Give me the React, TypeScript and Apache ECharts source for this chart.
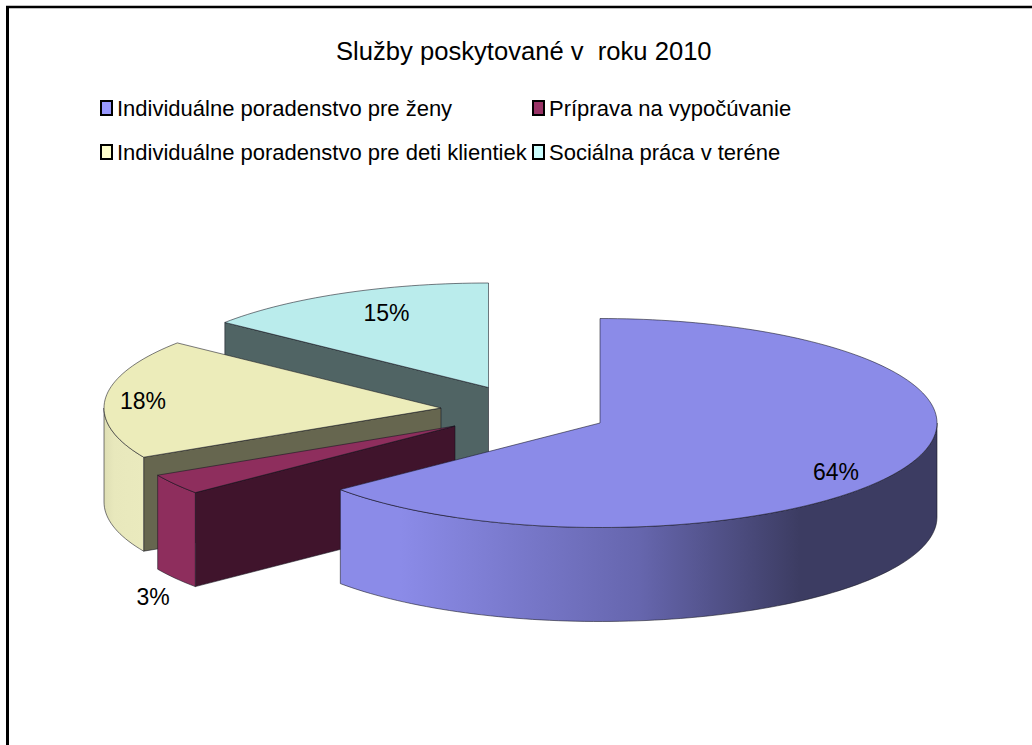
import React, { useEffect, useRef } from "react";
import * as echarts from "echarts";

const categories = [
  "Individuálne poradenstvo pre ženy",
  "Príprava na vypočúvanie",
  "Individuálne poradenstvo pre deti klientiek",
  "Sociálna práca v teréne",
];
const values = [64, 3.2, 18.5, 14.3];
const percentLabels = ["64%", "3%", "18%", "15%"];
const legendColors = ["#9999FF", "#993366", "#FFFFCC", "#CCFFFF"];
const topColors = ["#8B8BE8", "#8E2E5D", "#ECECBA", "#BAECEC"];
const cutColors = ["#3C3C62", "#40142C", "#66664F", "#506464"];
const wallStops: [number, string][][] = [
  [[0, "#8B8BE8"], [0.1, "#8B8BE8"], [0.5, "#6666AE"], [0.77, "#3C3C62"], [1, "#3C3C62"]],
  [[0, "#8E2E5D"], [1, "#8E2E5D"]],
  [[0, "#DEDEB4"], [0.25, "#E8E8BC"], [1, "#EAEABE"]],
  [[0, "#BAECEC"], [1, "#BAECEC"]],
];
const sliceCenters = [[600, 423], [455, 426], [441, 408], [488.5, 387.5]];
const labelOffsets = [[236, 49], [-302, 171], [-298, -7], [-102, -75]];
const drawOrder = [3, 2, 1, 0];
// whether the radial edge where a slice starts shows its cut face to the viewer
const cutFaceAtStart = [false, true, true, true];

const RX = 337;
const RY = 104.5;
const DEPTH = 94;
const FONT = "'Liberation Sans', Arial, sans-serif";
const EDGE = "rgba(20,20,30,0.7)";

const total = values.reduce((a, b) => a + b, 0);
const startOf = (i: number) => (values.slice(0, i).reduce((a, b) => a + b, 0) / total) * 360;

function rim(cx: number, cy: number, deg: number, dy = 0): number[] {
  const r = (deg * Math.PI) / 180;
  return [cx + RX * Math.sin(r), cy - RY * Math.cos(r) + dy];
}
function arc(cx: number, cy: number, a0: number, a1: number, dy = 0): number[][] {
  const n = Math.max(2, Math.ceil(Math.abs(a1 - a0) / 1.5));
  const pts: number[][] = [];
  for (let k = 0; k <= n; k++) pts.push(rim(cx, cy, a0 + ((a1 - a0) * k) / n, dy));
  return pts;
}

function makeRender(i: number) {
  return (_p: any, api: any) => {
    const a0 = startOf(i);
    const a1 = a0 + (api.value(0) / total) * 360;
    const [cx, cy] = sliceCenters[i];
    const children: any[] = [];
    const shade = (pts: number[][], fill: any) =>
      children.push({
        type: "polygon",
        shape: { points: pts },
        style: { fill, stroke: EDGE, lineWidth: 0.8 },
        silent: true,
      });
    if (cutFaceAtStart[i]) {
      const p = rim(cx, cy, a0);
      shade([[cx, cy], p, [p[0], p[1] + DEPTH], [cx, cy + DEPTH]], cutColors[i]);
    }
    // outer wall: only the front half of the rim can be seen
    const w0 = Math.max(a0, 90);
    const w1 = Math.min(a1, 270);
    if (w1 > w0) {
      const grad = new echarts.graphic.LinearGradient(
        0, 0, 1, 0,
        wallStops[i].map(([offset, color]) => ({ offset, color }))
      );
      shade([...arc(cx, cy, w0, w1), ...arc(cx, cy, w1, w0, DEPTH)], grad);
    }
    // top surface
    shade([[cx, cy], ...arc(cx, cy, a0, a1)], topColors[i]);
    children.push({
      type: "text",
      silent: true,
      style: {
        text: percentLabels[i],
        x: cx + labelOffsets[i][0],
        y: cy + labelOffsets[i][1],
        align: "center",
        verticalAlign: "middle",
        fill: "#000",
        fontSize: 23,
        fontFamily: FONT,
      },
    });
    return { type: "group", children };
  };
}

export default function App() {
  const ref = useRef<HTMLDivElement>(null);
  useEffect(() => {
    document.body.style.margin = "0";
    const chart = echarts.init(ref.current!, null, { renderer: "svg" });
    const legendBase = {
      orient: "vertical" as const,
      icon: "rect",
      itemWidth: 11,
      itemHeight: 14,
      itemGap: 22,
      selectedMode: false,
      padding: 0,
      itemStyle: { borderColor: "#000", borderWidth: 2 },
      textStyle: { fontSize: 22, fontFamily: FONT, color: "#000" },
    };
    chart.setOption({
      animation: false,
      backgroundColor: "#fff",
      title: {
        text: "Služby poskytované v  roku 2010",
        left: 336,
        top: 38,
        padding: 0,
        textStyle: { fontSize: 25.6, fontWeight: "normal", fontFamily: FONT, color: "#000" },
      },
      legend: [
        { ...legendBase, left: 100, top: 97, data: [categories[0], categories[2]] },
        { ...legendBase, left: 532, top: 97, data: [categories[1], categories[3]] },
      ],
      graphic: [
        { type: "line", shape: { x1: 7.5, y1: 7, x2: 7.5, y2: 745 }, style: { stroke: "#000", lineWidth: 3 }, silent: true },
        { type: "line", shape: { x1: 6, y1: 7, x2: 1032, y2: 7 }, style: { stroke: "#000", lineWidth: 2.5 }, silent: true },
      ],
      series: drawOrder.map((i, order) => ({
        type: "custom",
        name: categories[i],
        coordinateSystem: "none",
        z: 2 + order,
        silent: true,
        itemStyle: { color: legendColors[i] },
        data: [[values[i]]],
        renderItem: makeRender(i),
      })),
    });
    return () => chart.dispose();
  }, []);
  return <div ref={ref} style={{ position: "fixed", left: 0, top: 0, width: 1032, height: 745 }} />;
}
